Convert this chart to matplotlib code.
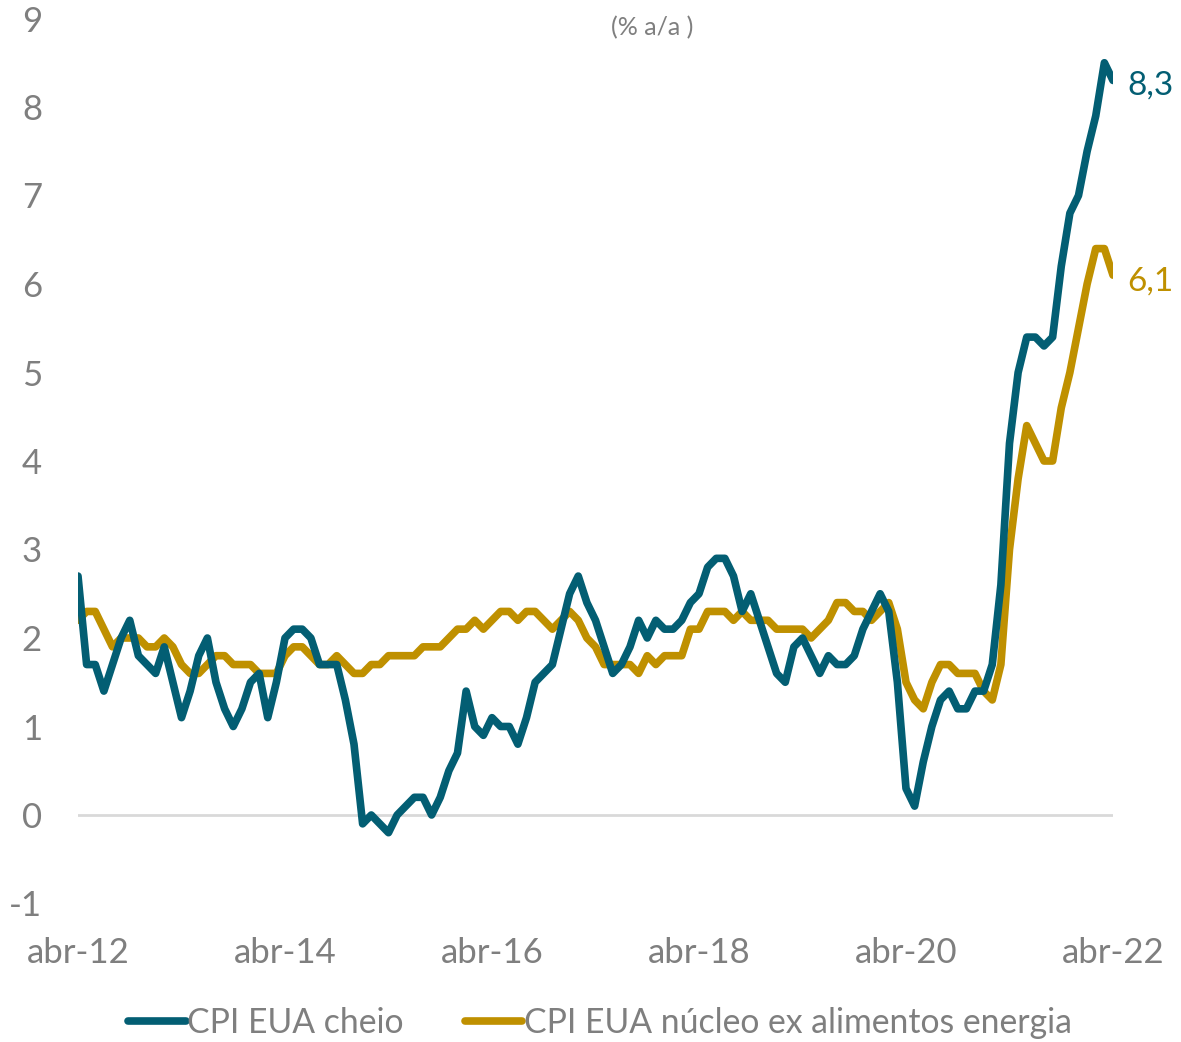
import matplotlib
matplotlib.use('Agg')
import matplotlib.pyplot as plt
import numpy as np

# CPI EUA, % a/a, mensal abr-12 .. abr-22
cpi_cheio = [2.7, 1.7, 1.7, 1.4, 1.7, 2.0, 2.2, 1.8, 1.7,
             1.6, 1.9, 1.5, 1.1, 1.4, 1.8, 2.0, 1.5, 1.2, 1.0, 1.2, 1.5,
             1.6, 1.1, 1.5, 2.0, 2.1, 2.1, 2.0, 1.7, 1.7, 1.7, 1.3, 0.8,
             -0.1, 0.0, -0.1, -0.2, 0.0, 0.1, 0.2, 0.2, 0.0, 0.2, 0.5, 0.7,
             1.4, 1.0, 0.9, 1.1, 1.0, 1.0, 0.8, 1.1, 1.5, 1.6, 1.7, 2.1,
             2.5, 2.7, 2.4, 2.2, 1.9, 1.6, 1.7, 1.9, 2.2, 2.0, 2.2, 2.1,
             2.1, 2.2, 2.4, 2.5, 2.8, 2.9, 2.9, 2.7, 2.3, 2.5, 2.2, 1.9,
             1.6, 1.5, 1.9, 2.0, 1.8, 1.6, 1.8, 1.7, 1.7, 1.8, 2.1, 2.3,
             2.5, 2.3, 1.5, 0.3, 0.1, 0.6, 1.0, 1.3, 1.4, 1.2, 1.2, 1.4,
             1.4, 1.7, 2.6, 4.2, 5.0, 5.4, 5.4, 5.3, 5.4, 6.2, 6.8, 7.0,
             7.5, 7.9, 8.5, 8.3]
cpi_nucleo = [2.2, 2.3, 2.3, 2.1, 1.9, 2.0, 2.0, 2.0, 1.9,
              1.9, 2.0, 1.9, 1.7, 1.6, 1.6, 1.7, 1.8, 1.8, 1.7, 1.7, 1.7,
              1.6, 1.6, 1.6, 1.8, 1.9, 1.9, 1.8, 1.7, 1.7, 1.8, 1.7, 1.6,
              1.6, 1.7, 1.7, 1.8, 1.8, 1.8, 1.8, 1.9, 1.9, 1.9, 2.0, 2.1,
              2.1, 2.2, 2.1, 2.2, 2.3, 2.3, 2.2, 2.3, 2.3, 2.2, 2.1, 2.2,
              2.3, 2.2, 2.0, 1.9, 1.7, 1.7, 1.7, 1.7, 1.6, 1.8, 1.7, 1.8,
              1.8, 1.8, 2.1, 2.1, 2.3, 2.3, 2.3, 2.2, 2.3, 2.2, 2.2, 2.2,
              2.1, 2.1, 2.1, 2.1, 2.0, 2.1, 2.2, 2.4, 2.4, 2.3, 2.3, 2.2,
              2.3, 2.4, 2.1, 1.5, 1.3, 1.2, 1.5, 1.7, 1.7, 1.6, 1.6, 1.6,
              1.4, 1.3, 1.7, 3.0, 3.8, 4.4, 4.2, 4.0, 4.0, 4.6, 5.0, 5.5,
              6.0, 6.4, 6.4, 6.1]
tick_labels = ['abr-12', 'abr-14', 'abr-16', 'abr-18', 'abr-20', 'abr-22']

teal = '#035E73'
gold = '#BF9000'
gray = '#7F7F7F'

plt.rcParams['font.family'] = ['Lato', 'DejaVu Sans']
plt.rcParams['axes.unicode_minus'] = False

fig = plt.figure(figsize=(11.81, 10.42), dpi=100)
ax = fig.add_axes([78 / 1181, 1 - 903.5 / 1042, (1113 - 78) / 1181, (903.5 - 18.5) / 1042])

months = np.arange(len(cpi_cheio))
ax.axhline(0, color='#D9D9D9', linewidth=2, zorder=1)
l1, = ax.plot(months, cpi_cheio, color=teal, linewidth=5.5, solid_joinstyle='round',
              solid_capstyle='round', label='CPI EUA cheio', zorder=3)
l2, = ax.plot(months, cpi_nucleo, color=gold, linewidth=5.5, solid_joinstyle='round',
              solid_capstyle='round', label='CPI EUA núcleo ex alimentos energia', zorder=2)

ax.set_xlim(0, 120)
ax.set_ylim(-1, 9)
ax.set_yticks(range(-1, 10))
ax.set_xticks(range(0, 121, 24))
ax.set_xticklabels(tick_labels)
for s in ax.spines.values():
    s.set_visible(False)
ax.tick_params(axis='y', length=0, pad=26, labelsize=25, labelcolor=gray)
ax.tick_params(axis='x', length=0, pad=24, labelsize=25, labelcolor=gray)

ax.annotate('8,3', xy=(120, cpi_cheio[-1]), xytext=(14, -5), textcoords='offset pixels',
            va='center', ha='left', fontsize=24, color=teal)
ax.annotate('6,1', xy=(120, cpi_nucleo[-1]), xytext=(14, -6), textcoords='offset pixels',
            va='center', ha='left', fontsize=24, color=gold)

fig.text(652 / 1181, 1 - 28 / 1042, '(% a/a )', ha='center', va='center', fontsize=18, color=gray)

fig.legend(handles=[l1, l2], loc='center', bbox_to_anchor=(600 / 1181, 1 - 1023 / 1042),
           ncol=2, frameon=False, fontsize=24.3, labelcolor=gray, handlelength=1.7,
           handletextpad=0.05, columnspacing=1.8)

fig.savefig('out.png', dpi=100)
